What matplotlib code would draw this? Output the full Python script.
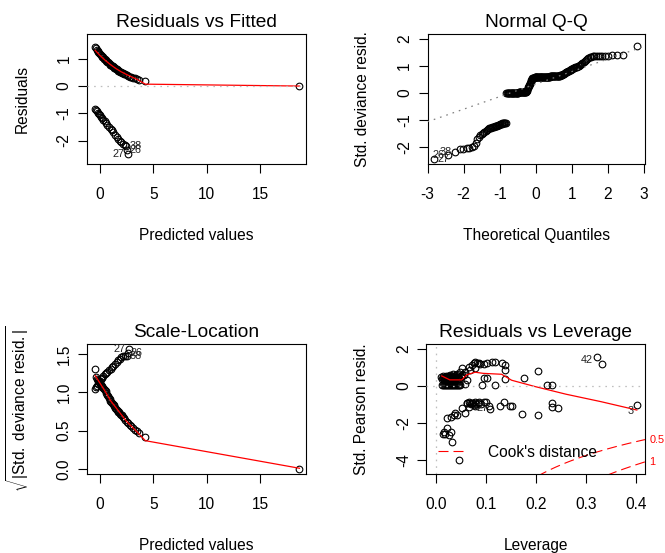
import numpy as np
import matplotlib
matplotlib.use("Agg")
import matplotlib.pyplot as plt
from matplotlib.transforms import offset_copy
from statistics import NormalDist

plt.rcParams['font.family'] = ['Liberation Sans', 'DejaVu Sans']
plt.rcParams['mathtext.fontset'] = 'custom'
plt.rcParams['mathtext.rm'] = 'Liberation Sans'
plt.rcParams['mathtext.it'] = 'Liberation Sans:italic'
plt.rcParams['mathtext.bf'] = 'Liberation Sans:bold'

# ---------------- data ----------------
# Panel 1: Residuals vs Fitted
rvf_pos_fit = [-0.45, -0.38, -0.30, -0.22, -0.15, -0.08, 0.00, 0.08, 0.15, 0.22, 0.30, 0.38,
               0.45, 0.52, 0.60, 0.68, 0.75, 0.82, 0.90, 0.98, 1.05, 1.12, 1.20, 1.28, 1.35,
               1.42, 1.50, 1.58, 1.65, 1.72, 1.80, 1.88, 1.95, 2.05, 2.15, 2.25, 2.35, 2.50,
               2.65, 2.80, 2.95, 3.10, 3.30, 3.50, 3.70, 4.25, 18.7]
rvf_pos_res = [1.42, 1.38, 1.34, 1.29, 1.26, 1.22, 1.18, 1.14, 1.11, 1.08, 1.05, 1.01,
               0.98, 0.96, 0.93, 0.90, 0.87, 0.84, 0.81, 0.78, 0.76, 0.74, 0.72, 0.70, 0.67,
               0.65, 0.63, 0.61, 0.59, 0.57, 0.55, 0.53, 0.51, 0.49, 0.47, 0.45, 0.43, 0.40,
               0.37, 0.35, 0.33, 0.31, 0.28, 0.26, 0.24, 0.20, 0.00]
rvf_neg_fit = [-0.45, -0.38, -0.30, -0.20, -0.10, 0.00, 0.10, 0.20, 0.30, 0.45, 0.55, 0.70,
               0.85, 1.00, 1.10, 1.25, 1.40, 1.55, 1.70, 1.85, 2.00, 2.15, 2.30, 2.45, 2.52, 2.58]
rvf_neg_res = [-0.85, -0.89, -0.93, -0.98, -1.03, -1.08, -1.13, -1.18, -1.23, -1.30, -1.35, -1.42,
               -1.50, -1.57, -1.62, -1.70, -1.79, -1.88, -1.96, -2.02, -2.07, -2.11, -2.15, -2.19, -2.34, -2.50]
rvf_smooth_x = [-0.45, 0.0, 0.5, 1.0, 1.5, 2.0, 2.5, 3.0, 3.5, 4.25, 18.7]
rvf_smooth_y = [1.31, 1.12, 0.94, 0.78, 0.64, 0.52, 0.42, 0.33, 0.24, 0.07, 0.0]
rvf_label_text = ['38', '26', '27']
rvf_label_idx = [23, 24, 25]
rvf_label_side = ['right', 'right', 'left']

# Panel 2: Normal Q-Q (sorted std. deviance residuals)
qq_sample = [
    -2.45, -2.30, -2.17, -2.08, -2.05, -2.04, -2.03, -2.01, -1.95, -1.86,
    -1.70, -1.61, -1.56, -1.51, -1.47, -1.43, -1.40, -1.36, -1.33, -1.30,
    -1.29, -1.28, -1.27, -1.26, -1.25, -1.23, -1.22, -1.21, -1.20, -1.19,
    -1.18, -1.17, -1.16, -1.15, -1.14, -1.12, -1.12, -1.11, -1.10, -1.10,
    -1.09,
    0.00, 0.00, 0.01, 0.01, 0.01, 0.01, 0.01, 0.01, 0.01, 0.02,
    0.02, 0.02, 0.02, 0.02, 0.02, 0.02, 0.02, 0.02, 0.02, 0.02,
    0.02, 0.02, 0.03, 0.03, 0.03, 0.03, 0.03, 0.03, 0.03, 0.03,
    0.03, 0.03, 0.04, 0.04, 0.04, 0.04, 0.04, 0.05, 0.05,
    0.08, 0.12, 0.17, 0.21, 0.25, 0.29, 0.33, 0.37, 0.41, 0.45, 0.49, 0.52, 0.55, 0.57,
    0.57, 0.57, 0.57, 0.58, 0.58, 0.58, 0.58, 0.58, 0.58, 0.58,
    0.59, 0.59, 0.59, 0.59, 0.59, 0.59, 0.59, 0.59, 0.59, 0.60,
    0.60, 0.60, 0.60, 0.60, 0.60, 0.60, 0.60, 0.60, 0.61, 0.61,
    0.61, 0.61, 0.61, 0.61, 0.61, 0.61, 0.61, 0.62, 0.62, 0.62,
    0.62, 0.62, 0.62, 0.62, 0.62, 0.62, 0.62, 0.63, 0.63, 0.63,
    0.63, 0.63, 0.63, 0.63, 0.63,
    0.64, 0.65, 0.66, 0.67, 0.68, 0.69, 0.70, 0.72, 0.73, 0.74,
    0.76, 0.77, 0.79, 0.80, 0.82, 0.83, 0.85, 0.86, 0.88, 0.89,
    0.91, 0.92, 0.94, 0.95, 0.97, 0.98, 1.00, 1.01, 1.03,
    1.05, 1.08, 1.11, 1.14, 1.18, 1.22, 1.26, 1.30, 1.33,
    1.34, 1.35, 1.35, 1.36, 1.36, 1.37, 1.37, 1.38, 1.38, 1.39, 1.40, 1.41,
    1.73]
qq_label_text = ['27', '26', '38']
qq_label_rank = [0, 1, 2]
qq_label_side = ['right', 'left', 'left']

# Panel 3: Scale-Location
sl_pos_fit = rvf_pos_fit
sl_pos_val = [1.31, 1.20, 1.18, 1.16, 1.15, 1.13, 1.12, 1.10, 1.08, 1.07, 1.06, 1.04,
              1.03, 1.02, 0.99, 0.97, 0.95, 0.93, 0.91, 0.89, 0.88, 0.86, 0.85, 0.83, 0.82,
              0.80, 0.79, 0.77, 0.76, 0.75, 0.74, 0.72, 0.71, 0.70, 0.68, 0.66, 0.64, 0.62,
              0.60, 0.58, 0.56, 0.54, 0.51, 0.49, 0.47, 0.42, 0.00]
sl_neg_fit = [-0.45, -0.38, -0.30, -0.20, -0.10, 0.00, 0.10, 0.20, 0.30, 0.45, 0.55, 0.70,
              0.85, 1.00, 1.10, 1.25, 1.40, 1.55, 1.70, 1.85, 2.00, 2.15, 2.30, 2.50, 2.60, 2.68]
sl_neg_val = [1.05, 1.07, 1.09, 1.11, 1.13, 1.15, 1.17, 1.19, 1.21, 1.24, 1.25, 1.27,
              1.29, 1.31, 1.33, 1.35, 1.37, 1.40, 1.42, 1.44, 1.46, 1.47, 1.48, 1.47, 1.52, 1.57]
sl_smooth_x = [-0.45, 0.0, 0.5, 1.0, 1.5, 2.0, 2.5, 3.0, 3.5, 4.25, 18.7]
sl_smooth_y = [1.22, 1.12, 1.01, 0.89, 0.80, 0.71, 0.62, 0.55, 0.48, 0.37, 0.01]
sl_label_text = ['38', '26', '27']
sl_label_idx = [23, 24, 25]
sl_label_side = ['right', 'right', 'left']

# Panel 4: Residuals vs Leverage
lev_values = [0.010, 0.012, 0.014, 0.015, 0.016, 0.018, 0.019, 0.020, 0.021, 0.022, 0.024, 0.025,
              0.026, 0.027, 0.028, 0.030, 0.031, 0.033, 0.034, 0.035, 0.037, 0.039, 0.040, 0.042,
              0.044, 0.046, 0.048, 0.050, 0.052,
              0.012, 0.016, 0.020, 0.024, 0.028, 0.032, 0.036, 0.040, 0.044, 0.048, 0.058,
              0.055, 0.058, 0.051, 0.062, 0.065, 0.068, 0.072, 0.075, 0.078, 0.078, 0.082, 0.085,
              0.088, 0.095, 0.102, 0.112, 0.118, 0.132, 0.138, 0.138, 0.095, 0.102, 0.092, 0.118,
              0.138, 0.175, 0.203, 0.222, 0.231, 0.322, 0.332,
              0.403, 0.245, 0.231, 0.232, 0.204, 0.171, 0.152, 0.148, 0.128, 0.136, 0.108, 0.105,
              0.100, 0.095, 0.078, 0.078, 0.068, 0.065, 0.062, 0.066, 0.051, 0.057, 0.038, 0.035,
              0.030, 0.021, 0.015, 0.013, 0.018, 0.021, 0.025, 0.029, 0.031, 0.046,
              0.072, 0.070, 0.085, 0.090, 0.041, 0.061,
              0.013, 0.017, 0.021, 0.023, 0.026, 0.029, 0.032, 0.036, 0.038, 0.041, 0.045, 0.049,
              0.014, 0.018, 0.022, 0.026, 0.030, 0.034, 0.038, 0.042, 0.046,
              0.074, 0.080, 0.076, 0.083]
lev_resid = [0.45, 0.38, 0.52, 0.42, 0.33, 0.48, 0.40, 0.55, 0.36, 0.45, 0.50, 0.40,
             0.32, 0.58, 0.46, 0.38, 0.52, 0.44, 0.62, 0.35, 0.48, 0.56, 0.40, 0.66,
             0.50, 0.38, 0.72, 0.45, 0.60,
             0.03, 0.02, 0.03, 0.02, 0.03, 0.02, 0.03, 0.02, 0.03, 0.02, 0.10,
             0.58, 0.76, 0.94, 0.32, 1.03, 0.85, 1.12, 1.21, 1.30, 0.94, 1.25, 1.21,
             1.15, 1.17, 1.21, 1.30, 1.30, 1.21, 1.12, 0.85, 0.40, 0.40, 0.05, 0.05,
             0.37, 0.40, 0.80, 0.05, 0.05, 1.55, 1.18,
             -1.03, -1.21, -1.12, -0.90, -1.57, -1.53, -1.08, -1.08, -1.08, -0.85, -1.26, -1.08,
             -0.85, -0.85, -1.08, -0.85, -0.94, -0.85, -0.94, -1.15, -1.21, -1.48, -1.48, -1.57,
             -1.66, -1.75, -2.50, -2.60, -2.60, -2.28, -2.64, -2.50, -3.00, -3.98,
             -0.90, -1.00, -0.88, -0.95, -1.56, -0.94,
             0.42, 0.47, 0.39, 0.51, 0.43, 0.49, 0.41, 0.54, 0.44, 0.47, 0.42, 0.55,
             0.05, 0.04, 0.05, 0.04, 0.05, 0.04, 0.05, 0.04, 0.05,
             -0.92, -0.97, -1.02, -0.91]
lev_smooth_x = [0.011, 0.027, 0.051, 0.061, 0.078, 0.094, 0.131, 0.151, 0.198, 0.26, 0.33, 0.402]
lev_smooth_y = [0.53, 0.32, 0.32, 0.59, 0.73, 0.67, 0.62, 0.30, -0.04, -0.45, -0.85, -1.30]
lev_label_text = ['42', '3', '27']
lev_label_idx = [69, 71, 105]
lev_label_side = ['left', 'left', 'right']
cook_levels = [0.5, 1.0]
cook_level_text = ['0.5', '1']
n_params = 12

# ---------------- layout / style ----------------
W, H = 665, 553
fig = plt.figure(figsize=(W / 100, H / 100), dpi=100)
FS = 11.2
TFS = 13.8
IDFS = 7.8
RED = '#FF0000'
GRAY = '#BEBEBE'
GRAY50 = '#7F7F7F'
DOT = (0, (1.3, 4.0))


def add_axes(left, top, right, bottom):
    return fig.add_axes([left / W, 1 - bottom / H, (right - left) / W, (bottom - top) / H])


def style(ax, title, xlabel, ylabel, xt, xtl, yt, ytl, xlim, ylim):
    ax.set_xlim(xlim)
    ax.set_ylim(ylim)
    ax.set_xticks(xt)
    ax.set_xticklabels(xtl)
    ax.set_yticks(yt)
    ax.set_yticklabels(ytl, rotation=90, va='center')
    ax.tick_params(length=6.5, width=0.8, color='black', labelsize=FS, labelcolor='black')
    ax.tick_params(axis='x', pad=10)
    ax.tick_params(axis='y', pad=4.6)
    for s in ax.spines.values():
        s.set_linewidth(0.8)
        s.set_color('black')
    bb = ax.get_position()
    hpx = bb.height * H
    wpx = bb.width * W
    ax.text(0.5, 1 + 7.3 / hpx, title, transform=ax.transAxes, ha='center',
            va='baseline', fontsize=TFS, color='black')
    ax.set_xlabel(xlabel, fontsize=FS, color='black')
    ax.xaxis.set_label_coords(0.5, -76 / hpx)
    ax.xaxis.label.set_va('baseline')
    ax.set_ylabel(ylabel, fontsize=FS, color='black')
    ax.yaxis.set_label_coords(-60.5 / wpx, 0.5)
    ax.yaxis.label.set_va('baseline')


def points(ax, x, y):
    ax.plot(x, y, ls='none', marker='o', ms=4.8, mfc='none', mec='black', mew=0.8,
            zorder=2, clip_on=False)


def id_label(ax, x, y, txt, side, dy=0.0, off=3.0):
    dx = off if side == 'right' else -off
    tr = offset_copy(ax.transData, fig=fig, x=dx, y=-dy, units='dots')
    ax.text(x, y, txt, transform=tr, ha='left' if side == 'right' else 'right',
            va='center', fontsize=IDFS, color='#222222', zorder=4, clip_on=False)


# ---- Panel 1 ----
ax1 = add_axes(87, 34, 306, 164)
points(ax1, rvf_pos_fit, rvf_pos_res)
points(ax1, rvf_neg_fit, rvf_neg_res)
ax1.plot(rvf_smooth_x, rvf_smooth_y, color=RED, lw=0.9, zorder=3)
ax1.axhline(0, color=GRAY, lw=0.9, ls=DOT, zorder=3.5)
for t, i, s in zip(rvf_label_text, rvf_label_idx, rvf_label_side):
    id_label(ax1, rvf_neg_fit[i], rvf_neg_res[i], t, s)
style(ax1, 'Residuals vs Fitted', 'Predicted values', 'Residuals',
      [0, 5, 10, 15], ['0', '5', '10', '15'], [-2, -1, 0, 1], ['-2', '-1', '0', '1'],
      (-1.22, 19.31), (-2.86, 1.91))

# ---- Panel 2 ----
ax2 = add_axes(427.5, 34, 644.7, 164)
n = len(qq_sample)
nd = NormalDist()
qq_theo = [nd.inv_cdf((i + 0.5) / n) for i in range(n)]
points(ax2, qq_theo, qq_sample)
q1, q3 = np.quantile(qq_sample, [0.25, 0.75])
t1, t3 = nd.inv_cdf(0.25), nd.inv_cdf(0.75)
slope = (q3 - q1) / (t3 - t1)
inter = q1 - slope * t1
ax2.axline((0, inter), slope=slope, color=GRAY50, lw=0.9, ls=DOT, zorder=3)
for t, r, s in zip(qq_label_text, qq_label_rank, qq_label_side):
    id_label(ax2, qq_theo[r], qq_sample[r], t, s)
style(ax2, 'Normal Q-Q', 'Theoretical Quantiles', 'Std. deviance resid.',
      [-3, -2, -1, 0, 1, 2, 3], ['-3', '-2', '-1', '0', '1', '2', '3'],
      [-2, -1, 0, 1, 2], ['-2', '-1', '0', '1', '2'], (-3.0, 3.02), (-2.62, 2.18))

# ---- Panel 3 ----
ax3 = add_axes(87, 344.3, 306, 473.7)
points(ax3, sl_pos_fit, sl_pos_val)
points(ax3, sl_neg_fit, sl_neg_val)
ax3.plot(sl_smooth_x, sl_smooth_y, color=RED, lw=0.9, zorder=3)
for t, i, s in zip(sl_label_text, sl_label_idx, sl_label_side):
    id_label(ax3, sl_neg_fit[i], sl_neg_val[i], t, s)
style(ax3, 'Scale-Location', 'Predicted values',
      r'$\sqrt{|\mathrm{Std.\ deviance\ resid.}|}$',
      [0, 5, 10, 15], ['0', '5', '10', '15'], [0.0, 0.5, 1.0, 1.5],
      ['0.0', '0.5', '1.0', '1.5'], (-1.22, 19.31), (-0.061, 1.628))

# ---- Panel 4 ----
ax4 = add_axes(426.3, 344.3, 645.3, 473.7)
xl4 = (-0.020, 0.419)
yl4 = (-4.72, 2.23)
points(ax4, lev_values, lev_resid)
ax4.plot(lev_smooth_x, lev_smooth_y, color=RED, lw=0.9, zorder=3)
ax4.axhline(0, color=GRAY, lw=0.9, ls=DOT, zorder=3.5)
ax4.axvline(0, color=GRAY, lw=0.9, ls=DOT, zorder=3.5)
hh = np.linspace(0.001, xl4[1], 201)
cook_ls = (0, (9, 4.5))
for lvl, txt in zip(cook_levels, cook_level_text):
    cl = np.sqrt(lvl * n_params * (1 - hh) / hh)
    ax4.plot(hh, cl, color=RED, lw=0.8, ls=cook_ls, zorder=3)
    ax4.plot(hh, -cl, color=RED, lw=0.8, ls=cook_ls, zorder=3)
    yend = -np.sqrt(lvl * n_params * (1 - xl4[1]) / xl4[1])
    tr = offset_copy(ax4.transData, fig=fig, x=4, y=0, units='dots')
    ax4.text(xl4[1], yend, txt, transform=tr, ha='left', va='center', fontsize=IDFS,
             color=RED, clip_on=False)
for t, i, s in zip(lev_label_text, lev_label_idx, lev_label_side):
    dy = {'42': 3, '3': 6, '27': 5}[t]
    id_label(ax4, lev_values[i], lev_resid[i], t, s, dy=dy, off=4)
leg_line = plt.Line2D([], [], color=RED, lw=0.8, ls=cook_ls)
ax4.legend([leg_line], ["Cook's distance"], loc='lower left', frameon=False,
           fontsize=FS, handlelength=1.9, handletextpad=1.3,
           bbox_to_anchor=(0.01, 0.035), borderaxespad=0.2)
style(ax4, 'Residuals vs Leverage', 'Leverage', 'Std. Pearson resid.',
      [0.0, 0.1, 0.2, 0.3, 0.4], ['0.0', '0.1', '0.2', '0.3', '0.4'],
      [-4, -2, 0, 2], ['-4', '-2', '0', '2'], xl4, yl4)

fig.savefig('out.png', dpi=100)
